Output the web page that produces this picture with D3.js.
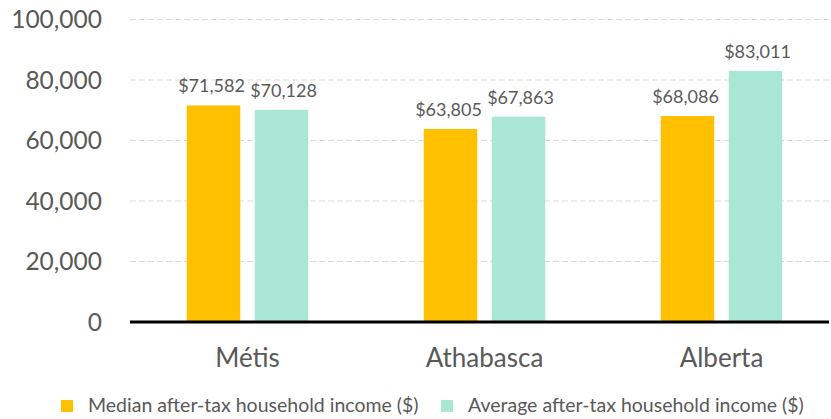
<!DOCTYPE html>
<html>
<head>
<meta charset="utf-8">
<script src="https://cdn.jsdelivr.net/npm/d3@7"></script>
<style>
  body { margin: 0; background: #fff; }
  text { font-family: Lato, "Open Sans", sans-serif; fill: #595959; }
</style>
</head>
<body>
<div id="chart"></div>
<script>

var categories = ['Métis', 'Athabasca', 'Alberta'];
var seriesNames = ['Median after-tax household income ($)', 'Average after-tax household income ($)'];
var median = [71582, 63805, 68086];
var average = [70128, 67863, 83011];
var yTicks = [0, 20000, 40000, 60000, 80000, 100000];

var colors = ['#FFC000', '#A9E6D3'];
var width = 831;
var height = 419;
var plotLeft = 129;
var plotRight = 840;
var plotTop = 19.5;
var plotBottom = 322;
var groupWidth = 121.5;

var data = categories.map(function(c, i){
  return { cat: c, values: [median[i], average[i]] };
});

var svg = d3.select('#chart').append('svg')
    .attr('width', width)
    .attr('height', height);

var x = d3.scaleBand()
    .domain(categories)
    .range([plotLeft, plotRight]);

var x1 = d3.scaleBand()
    .domain([0, 1])
    .range([0, groupWidth])
    .paddingInner(0.213);

var y = d3.scaleLinear()
    .domain([0, 100000])
    .range([plotBottom, plotTop]);

var fmtAxis = d3.format(',');
var fmtLabel = function(v){ return '$' + d3.format(',')(v); };

// gridlines
svg.append('g')
  .selectAll('line')
  .data(yTicks.filter(function(d){ return d > 0; }))
  .join('line')
    .attr('x1', 130)
    .attr('x2', width)
    .attr('y1', function(d){ return y(d); })
    .attr('y2', function(d){ return y(d); })
    .attr('stroke', '#D9D9D9')
    .attr('stroke-width', 1)
    .attr('stroke-dasharray', '6,3');

// y tick labels
svg.append('g')
  .selectAll('text')
  .data(yTicks)
  .join('text')
    .attr('x', 102)
    .attr('y', function(d){ return y(d); })
    .attr('dy', '0.35em')
    .attr('text-anchor', 'end')
    .style('font-size', '24.5px')
    .text(fmtAxis);

// bars
var groups = svg.append('g')
  .selectAll('g')
  .data(data)
  .join('g')
    .attr('transform', function(d){ return 'translate(' + (x(d.cat) + x.bandwidth() / 2 - groupWidth / 2) + ',0)'; });

groups.selectAll('rect')
  .data(function(d){ return d.values; })
  .join('rect')
    .attr('x', function(d, i){ return x1(i); })
    .attr('y', function(d){ return y(d); })
    .attr('width', x1.bandwidth())
    .attr('height', function(d){ return plotBottom - y(d); })
    .attr('fill', function(d, i){ return colors[i]; });

groups.selectAll('text')
  .data(function(d){ return d.values; })
  .join('text')
    .attr('x', function(d, i){ return x1(i) + x1.bandwidth() / 2 + (i === 0 ? -2 : 2); })
    .attr('y', function(d){ return y(d) - 13; })
    .attr('text-anchor', 'middle')
    .style('font-size', '18px')
    .text(fmtLabel);

// x axis line
svg.append('line')
    .attr('x1', 130)
    .attr('x2', 829)
    .attr('y1', plotBottom)
    .attr('y2', plotBottom)
    .attr('stroke', '#000')
    .attr('stroke-width', 3);

// category labels
svg.append('g')
  .selectAll('text')
  .data(categories)
  .join('text')
    .attr('x', function(d){ return x(d) + x.bandwidth() / 2; })
    .attr('y', 367)
    .attr('text-anchor', 'middle')
    .style('font-size', '26px')
    .text(function(d){ return d; });

// legend
var legendX = [61, 441];
var legend = svg.append('g')
  .selectAll('g')
  .data(seriesNames)
  .join('g')
    .attr('transform', function(d, i){ return 'translate(' + legendX[i] + ',400)'; });

legend.append('rect')
    .attr('width', 12)
    .attr('height', 12)
    .attr('fill', function(d, i){ return colors[i]; });

legend.append('text')
    .attr('x', 27)
    .attr('y', 12)
    .style('font-size', '19.5px')
    .text(function(d){ return d; });

</script>
</body>
</html>
